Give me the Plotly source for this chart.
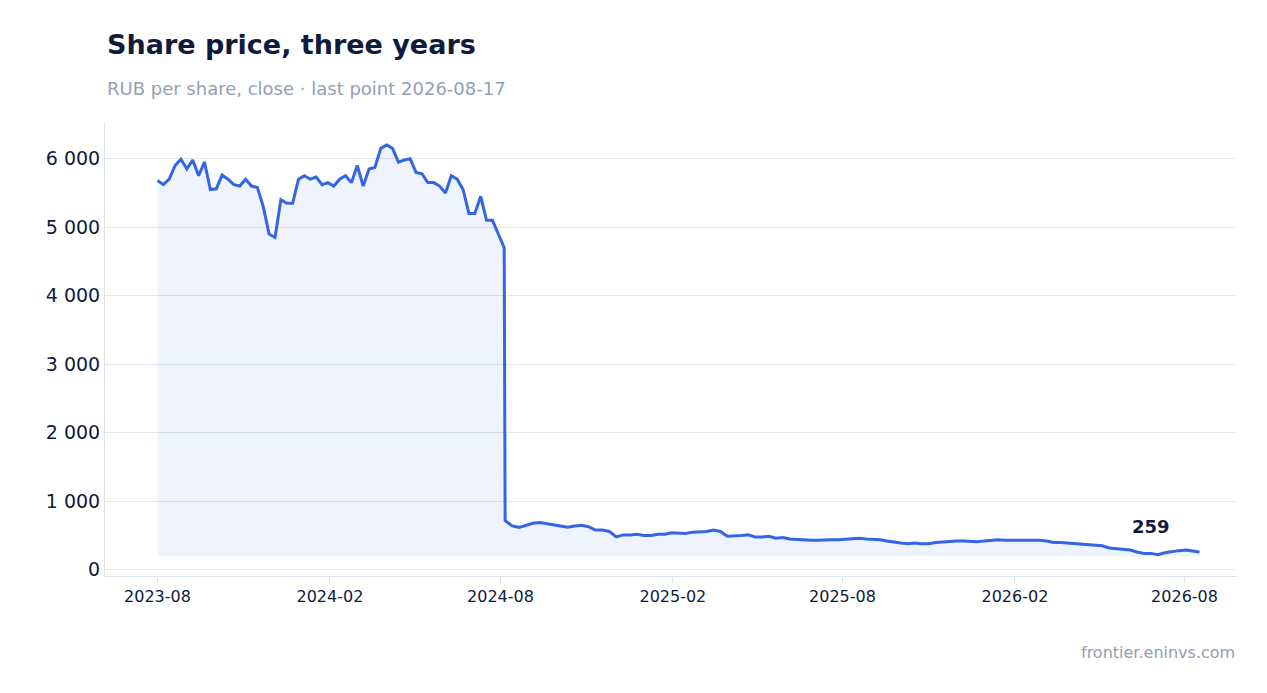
import pandas as pd
import plotly.graph_objects as go

pre_values = [5680, 5620, 5700, 5900, 5990,
              5850, 5980, 5750, 5950,
              5550, 5560, 5760, 5700, 5620,
              5600, 5700, 5600, 5580, 5300,
              4900, 4850, 5400, 5350, 5350,
              5700, 5750, 5700, 5730, 5620,
              5650, 5600, 5700, 5750, 5650,
              5900, 5600, 5850, 5870, 6150,
              6200, 6150, 5950, 5980, 6000,
              5800, 5780, 5650, 5650, 5600,
              5500, 5750, 5700, 5550, 5200,
              5200, 5450, 5100, 5100, 4900, 4700]
post_values = [720, 640, 620, 650, 680,
               690, 670, 660, 640,
               620, 640, 650, 630,
               580, 580, 560, 480,
               510, 510, 520, 500,
               500, 520, 520, 540, 540,
               530, 550, 550, 560,
               580, 560, 490, 490,
               500, 510, 480, 480,
               490, 460, 470, 450,
               440, 440, 430, 430,
               440, 440, 440, 450, 460,
               460, 450, 450, 440,
               420, 400, 390, 380,
               390, 380, 380, 400,
               410, 420, 420, 420,
               410, 410, 420, 430,
               440, 430, 430, 440,
               430, 430, 430, 420,
               400, 400, 390, 390,
               370, 360, 350, 350,
               320, 310, 300, 290,
               260, 240, 240, 220,
               250, 270, 280, 290,
               270, 259]
pre_dates = pd.date_range("2023-08-01", "2024-08-05", periods=len(pre_values))
post_dates = pd.date_range("2024-08-06", "2026-08-17", periods=len(post_values))
dates = pre_dates.append(post_dates)
values = pre_values + post_values
baseline = 200
tick_vals = [0, 1000, 2000, 3000, 4000, 5000, 6000]
tick_text = ["0", "1 000", "2 000", "3 000", "4 000", "5 000", "6 000"]

fig = go.Figure()
fig.add_trace(go.Scatter(x=dates, y=[baseline] * len(values), mode="lines",
                         line=dict(width=0), hoverinfo="skip", showlegend=False))
fig.add_trace(go.Scatter(x=dates, y=values, mode="lines", fill="tonexty",
                         fillcolor="rgba(51,102,230,0.08)",
                         line=dict(color="#3366e6", width=3), showlegend=False))
fig.add_annotation(x=dates[-8], y=values[-1], text="<b>259</b>", showarrow=False,
                   yshift=26, font=dict(size=18, color="#0f1b3d"))
fig.add_annotation(text="<b>Share price, three years</b>", xref="paper", yref="paper",
                   x=0, y=1.174, xanchor="left", yanchor="middle", showarrow=False,
                   font=dict(size=27, color="#0f1b3d"))
fig.add_annotation(text="RUB per share, close · last point 2026-08-17", xref="paper", yref="paper",
                   x=0, y=1.077, xanchor="left", yanchor="middle", showarrow=False,
                   font=dict(size=18, color="#94a0b4"))
fig.add_annotation(text="frontier.eninvs.com", xref="paper", yref="paper", x=1, y=-0.168,
                   xanchor="right", yanchor="middle", showarrow=False,
                   font=dict(size=16, color="#94a0b4"))
fig.update_layout(
    width=1267, height=693, plot_bgcolor="white", paper_bgcolor="white",
    margin=dict(l=97, r=38, t=115, b=125),
    font=dict(family="DejaVu Sans", color="#0f1b3d"),
    xaxis=dict(range=["2023-06-06", "2026-09-26"], showgrid=False,
               tickvals=["2023-08-01", "2024-02-01", "2024-08-01", "2025-02-01", "2025-08-01", "2026-02-01", "2026-08-01"],
               ticktext=["2023-08", "2024-02", "2024-08", "2025-02", "2025-08", "2026-02", "2026-08"],
               ticks="outside", ticklen=6, tickcolor="#dde2ec",
               showline=True, linecolor="#dde2ec", tickfont=dict(size=16)),
    yaxis=dict(range=[-90, 6520], tickvals=tick_vals, ticktext=tick_text,
               gridcolor="#e3e7f0", zeroline=False, showline=True, linecolor="#dde2ec",
               tickfont=dict(size=19)),
)
fig.write_html("out.html")
